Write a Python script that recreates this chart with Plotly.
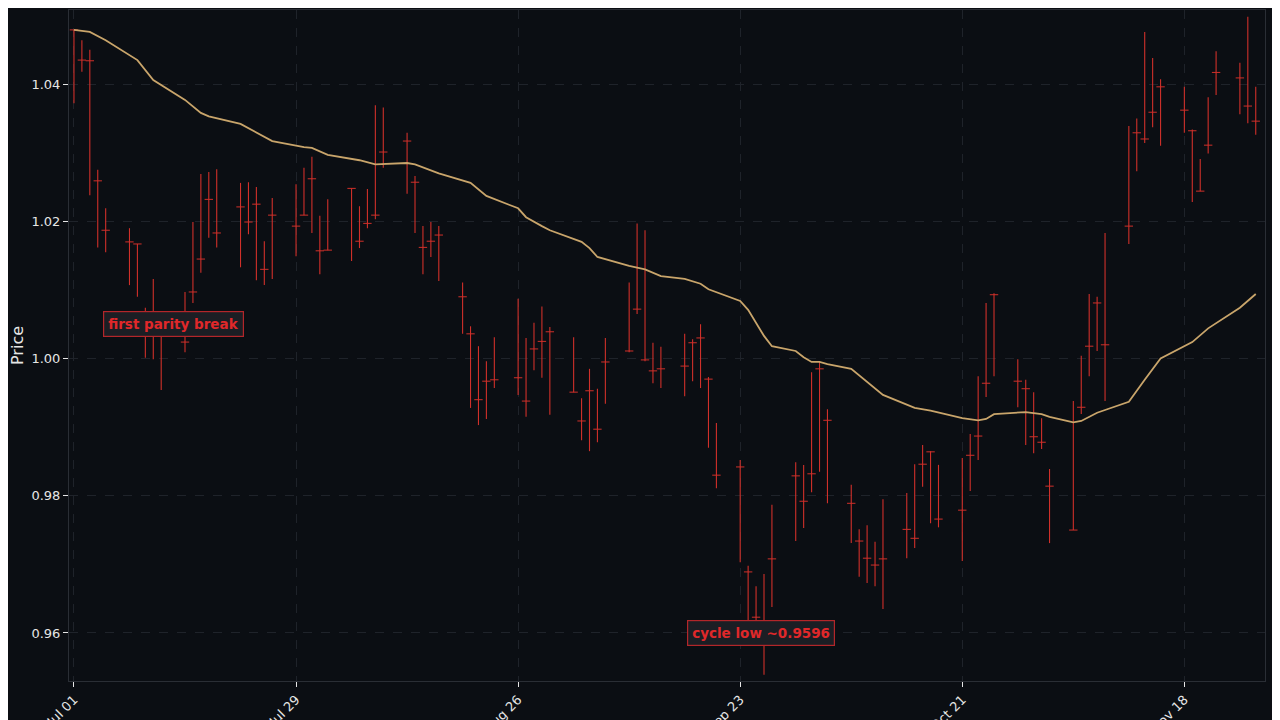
import pandas as pd
import plotly.graph_objects as go

# Daily bars (business days from Jul 01 2024)
dates = pd.bdate_range("2024-07-01", periods=108)

high = [1.0479, 1.0464, 1.0450, 1.0275, 1.0219, 1.0190, 1.0167, 1.0074, 1.0116, 1.0050,
        1.0097, 1.0199, 1.0269, 1.0272, 1.0276, 1.0256, 1.0257, 1.0250, 1.0171, 1.0234,
        1.0254, 1.0278, 1.0294, 1.0208, 1.0232, 1.0248, 1.0222, 1.0247, 1.0369, 1.0366,
        1.0329, 1.0266, 1.0193, 1.0199, 1.0193, 1.0111, 1.0047, 1.0018, 0.9996, 1.0031,
        1.0087, 1.0030, 1.0052, 1.0076, 1.0046, 1.0031, 0.9942, 0.9985, 0.9956, 1.0030,
        1.0111, 1.0197, 1.0187, 1.0023, 1.0017, 1.0036, 1.0028, 1.0050, 0.9973, 0.9906,
        0.9852, 0.9698, 0.9668, 0.9686, 0.9787, 0.9849, 0.9845, 0.9980, 0.9995, 0.9926,
        0.9816, 0.9751, 0.9757, 0.9733, 0.9795, 0.9804, 0.9846, 0.9874, 0.9865, 0.9845,
        0.9855, 0.9890, 0.9974, 1.0081, 1.0095, 0.9999, 0.9969, 0.9951, 0.9913, 0.9839,
        0.9938, 1.0004, 1.0094, 1.0090, 1.0183, 1.0339, 1.0350, 1.0476, 1.0438, 1.0407,
        1.0396, 1.0334, 1.0291, 1.0381, 1.0448, 1.0431, 1.0498, 1.0396]
low = [1.0372, 1.0418, 1.0238, 1.0162, 1.0155, 1.0107, 1.0090, 1.0001, 0.9999, 0.9954,
       1.0009, 1.0081, 1.0125, 1.0176, 1.0162, 1.0133, 1.0181, 1.0114, 1.0107, 1.0116,
       1.0149, 1.0209, 1.0183, 1.0123, 1.0158, 1.0142, 1.0161, 1.0190, 1.0203, 1.0278,
       1.0240, 1.0183, 1.0123, 1.0148, 1.0113, 1.0036, 0.9928, 0.9903, 0.9912, 0.9957,
       0.9947, 0.9915, 0.9983, 0.9972, 0.9918, 0.9951, 0.9881, 0.9865, 0.9878, 0.9934,
       1.0009, 1.0065, 0.9996, 0.9964, 0.9957, 0.9945, 0.9967, 0.9957, 0.9870, 0.9811,
       0.9703, 0.9581, 0.9585, 0.9539, 0.9638, 0.9734, 0.9753, 0.9805, 0.9835, 0.9789,
       0.9731, 0.9682, 0.9673, 0.9668, 0.9635, 0.9709, 0.9724, 0.9813, 0.9760, 0.9754,
       0.9705, 0.9807, 0.9852, 0.9944, 0.9974, 0.9929, 0.9874, 0.9862, 0.9868, 0.9731,
       0.9750, 0.9919, 0.9974, 1.0011, 0.9938, 1.0167, 1.0273, 1.0314, 1.0337, 1.0310,
       1.0329, 1.0228, 1.0244, 1.0299, 1.0384, 1.0356, 1.0343, 1.0326]
close = [1.0479, 1.0435, 1.0434, 1.0259, 1.0187, 1.0170, 1.0167, 1.0033, 1.0033, 1.0033,
         1.0024, 1.0097, 1.0145, 1.0232, 1.0183, 1.0221, 1.0199, 1.0225, 1.0130, 1.0209,
         1.0193, 1.0209, 1.0262, 1.0157, 1.0158, 1.0248, 1.0171, 1.0197, 1.0209, 1.0301,
         1.0317, 1.0257, 1.0162, 1.0171, 1.0180, 1.0090, 1.0036, 0.9940, 0.9967, 0.9969,
         0.9972, 0.9938, 1.0014, 1.0025, 1.0039, 0.9951, 0.9909, 0.9953, 0.9897, 0.9995,
         1.0011, 1.0072, 0.9998, 0.9982, 0.9985, 0.9989, 1.0023, 1.0030, 0.9970, 0.9830,
         0.9842, 0.9689, 0.9623, 0.9596, 0.9708, 0.9829, 0.9792, 0.9832, 0.9985, 0.9910,
         0.9789, 0.9734, 0.9709, 0.9699, 0.9708, 0.9751, 0.9738, 0.9846, 0.9864, 0.9766,
         0.9779, 0.9859, 0.9887, 0.9964, 1.0093, 0.9967, 0.9956, 0.9886, 0.9878, 0.9814,
         0.9750, 0.9929, 1.0018, 1.0081, 1.0020, 1.0193, 1.0329, 1.0320, 1.0359, 1.0396,
         1.0362, 1.0332, 1.0244, 1.0311, 1.0417, 1.0409, 1.0368, 1.0346]

# Moving average, read at selected bars
ma_idx = [0, 2, 4, 6, 8, 10, 12, 13, 15, 17, 19, 21, 22, 24, 26, 28, 30, 31, 33, 34,
          36, 38, 40, 41, 43, 44, 46, 47, 48, 50, 52, 54, 55, 57, 58, 60, 61, 63, 64, 65,
          66, 67, 68, 69, 70, 72, 74, 76, 78, 80, 82, 83, 84, 86, 88, 89, 90, 91, 93, 94,
          95, 97, 99, 101, 103, 105, 107]
ma_val = [1.0479, 1.0476, 1.0464, 1.0435, 1.0406, 1.0377, 1.0358, 1.0353, 1.0342, 1.0330,
          1.0317, 1.0308, 1.0307, 1.0297, 1.0289, 1.0283, 1.0285, 1.0283, 1.0275, 1.0270,
          1.0256, 1.0237, 1.0219, 1.0206, 1.0193, 1.0187, 1.0170, 1.0161, 1.0148, 1.0135,
          1.0130, 1.0120, 1.0116, 1.0109, 1.0101, 1.0084, 1.0071, 1.0033, 1.0018, 1.0011,
          1.0002, 0.9995, 0.9995, 0.9992, 0.9985, 0.9966, 0.9947, 0.9928, 0.9924, 0.9913,
          0.9910, 0.9912, 0.9919, 0.9922, 0.9919, 0.9915, 0.9907, 0.9909, 0.9921, 0.9925,
          0.9937, 0.9969, 1.0000, 1.0024, 1.0044, 1.0074, 1.0094]

tick_dates = pd.date_range("2024-07-01", periods=6, freq="28D")

bar_color = "#d0302a"
bg = "#0b0e13"
grid = "#1f232a"

# high-low segments
seg_x, seg_y = [], []
for d, h, l in zip(dates, high, low):
    seg_x += [d, d, None]
    seg_y += [h, l, None]

fig = go.Figure()
fig.add_trace(go.Scatter(x=seg_x, y=seg_y, mode="lines",
                         line=dict(color=bar_color, width=1.1), hoverinfo="skip"))
fig.add_trace(go.Scatter(x=dates, y=close, mode="markers",
                         marker=dict(symbol="line-ew", size=6,
                                     line=dict(color=bar_color, width=1))))
fig.add_trace(go.Scatter(x=dates[ma_idx], y=ma_val, mode="lines",
                         line=dict(color="#c9a56b", width=1.8)))

fig.add_annotation(x=pd.Timestamp("2024-07-13 12:00"), y=1.005, text="<b>first parity break</b>",
                   showarrow=False, font=dict(color="#e0282a", size=13.5),
                   bgcolor="#1b1e24", bordercolor="#b3262a", borderwidth=1.2, borderpad=4)
fig.add_annotation(x=pd.Timestamp("2024-09-25 14:00"), y=0.96, text="<b>cycle low ~0.9596</b>",
                   showarrow=False, font=dict(color="#e0282a", size=13.5),
                   bgcolor="#1b1e24", bordercolor="#b3262a", borderwidth=1.2, borderpad=4)

# page body adds an 8px offset, so margins are shifted to land the plot area in place
fig.update_layout(
    width=1280, height=720,
    margin=dict(l=61, r=23, t=2, b=47),
    paper_bgcolor=bg, plot_bgcolor=bg,
    showlegend=False,
    font=dict(family="DejaVu Sans", color="#e6e6e6", size=13),
)
fig.update_xaxes(
    range=[pd.Timestamp("2024-06-30 09:00"), pd.Timestamp("2024-11-28 04:00")],
    tickvals=tick_dates, ticktext=[d.strftime("%b %d") for d in tick_dates],
    tickangle=-45, ticks="outside", ticklen=5, tickcolor="#e6e6e6", automargin=False,
    showgrid=True, gridcolor=grid, griddash="dash", gridwidth=1,
    showline=True, linecolor="#2a2e35", mirror=True, zeroline=False,
)
fig.update_yaxes(
    range=[0.9530, 1.0508], automargin=False,
    tickvals=[0.96, 0.98, 1.00, 1.02, 1.04], tickformat=".2f",
    ticks="outside", ticklen=5, tickcolor="#e6e6e6",
    showgrid=True, gridcolor=grid, griddash="dash", gridwidth=1,
    showline=True, linecolor="#2a2e35", mirror=True, zeroline=False,
    title=dict(text="Price", standoff=8),
)

fig.write_html("out.html")
